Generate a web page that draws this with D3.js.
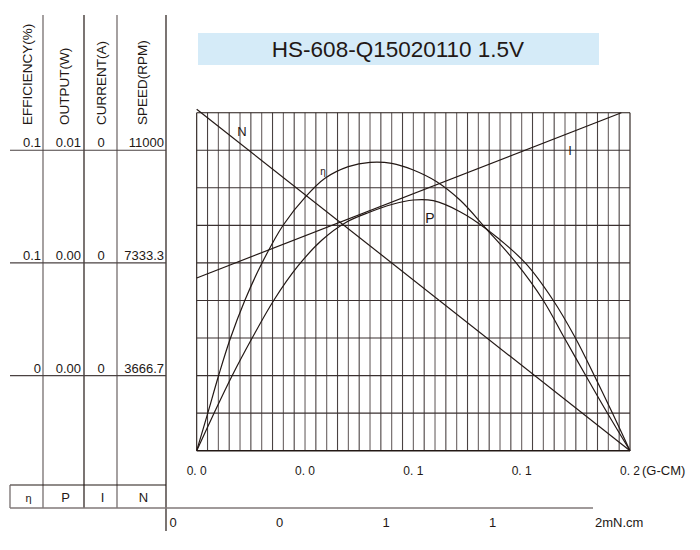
<!DOCTYPE html>
<html>
<head>
<meta charset="utf-8">
<script src="https://cdn.jsdelivr.net/npm/d3@7"></script>
<style>
  body { margin: 0; background: #fff; }
  text { font-family: "Liberation Sans", Arial, sans-serif; fill: #231815; }
</style>
</head>
<body>
<div class="chart"></div>
<script>
// motor curves, x = torque (G-CM)
const effTorque = [0, 0.00508, 0.01006, 0.01528, 0.02229, 0.03014, 0.03997, 0.05031, 0.05922, 0.06998, 0.07999, 0.09001, 0.09998, 0.11078, 0.12153, 0.13386, 0.14738, 0.15985, 0.16954, 0.17969, 0.18962, 0.2];
const effValues = [0, 0.01245, 0.02486, 0.03684, 0.05016, 0.06247, 0.07512, 0.08454, 0.09067, 0.09453, 0.09599, 0.09566, 0.09343, 0.08953, 0.08344, 0.07369, 0.06257, 0.05016, 0.03774, 0.02486, 0.01245, 0];

const outTorque = [0, 0.00799, 0.01629, 0.02553, 0.03568, 0.04676, 0.05784, 0.06924, 0.07999, 0.09001, 0.09998, 0.10921, 0.12153, 0.13386, 0.15154, 0.16446, 0.17462, 0.18362, 0.19193, 0.2];
const outValues = [0, 0.001245, 0.002486, 0.003741, 0.005016, 0.006148, 0.007013, 0.007612, 0.007945, 0.008195, 0.008344, 0.008321, 0.007955, 0.007369, 0.006257, 0.005016, 0.003774, 0.002486, 0.001245, 0];

const speedTorque = [0, 0.2];
const speedValues = [12500, 0];
const currentTorque = [0, 0.196];
const currentValues = [0.23, 0.45];

// left table
const tableHeaders = ["EFFICIENCY(%)", "OUTPUT(W)", "CURRENT(A)", "SPEED(RPM)"];
const tableLevels = [8, 5, 2]; // grid rows the table lines sit on
const effLabels = ["0.1", "0.1", "0"];
const outLabels = ["0.01", "0.00", "0.00"];
const curLabels = ["0", "0", "0"];
const speedLabels = ["11000", "7333.3", "3666.7"];
const legendLabels = ["η", "P", "I", "N"];

// axes labels
const torqueTicks = [0, 0.05, 0.1, 0.15, 0.2];
const torqueTickLabels = ["0. 0", "0. 0", "0. 1", "0. 1", "0. 2"];
const mNTicks = [0, 0.5, 1, 1.5];
const mNTickLabels = ["0", "0", "1", "1"];

const title = "HS-608-Q15020110 1.5V";

const svg = d3.select(".chart")
  .append("svg")
  .attr("width", 700)
  .attr("height", 550);

const ink = "#231815";

// grid area
const gx0 = 196.7, gx1 = 630, gy0 = 112.7, gy1 = 450.7;
const x = d3.scaleLinear().domain([0, 0.2]).range([gx0, gx1]);
const yGrid = d3.scaleLinear().domain([0, 9]).range([gy1, gy0]);
const ySpeed = d3.scaleLinear().domain([0, 12375]).range([gy1, gy0]);
const yEff = d3.scaleLinear().domain([0, 0.1125]).range([gy1, gy0]);
const yOut = d3.scaleLinear().domain([0, 0.01125]).range([gy1, gy0]);
const yCur = d3.scaleLinear().domain([0, 0.45]).range([gy1, gy0]);

// title box
svg.append("rect")
  .attr("x", 198).attr("y", 33)
  .attr("width", 401).attr("height", 32)
  .attr("fill", "#d5ebf8");
svg.append("text")
  .attr("x", 398).attr("y", 57)
  .attr("text-anchor", "middle")
  .attr("font-size", 22.5)
  .text(title);

// grid
const grid = svg.append("g");
grid.selectAll("line.v")
  .data(d3.range(41))
  .join("line")
  .attr("class", "v")
  .attr("x1", i => gx0 + i * (gx1 - gx0) / 40)
  .attr("x2", i => gx0 + i * (gx1 - gx0) / 40)
  .attr("y1", gy0).attr("y2", gy1)
  .attr("stroke", (i) => (i === 0 || i === 40) ? ink : (i % 2 ? "#4a4242" : "#6a6262"))
  .attr("stroke-width", 1.1);
grid.selectAll("line.h")
  .data(d3.range(10))
  .join("line")
  .attr("class", "h")
  .attr("x1", gx0).attr("x2", gx1)
  .attr("y1", d => yGrid(d)).attr("y2", d => yGrid(d))
  .attr("stroke", d => (d === 0 || d === 9) ? ink : "#3a3030")
  .attr("stroke-width", d => d === 0 ? 1.5 : 1.1);

// curves
const series = [
  { t: effTorque, v: effValues, y: yEff, curve: d3.curveCatmullRom },
  { t: outTorque, v: outValues, y: yOut, curve: d3.curveCatmullRom },
  { t: currentTorque, v: currentValues, y: yCur, curve: d3.curveLinear },
  { t: speedTorque, v: speedValues, y: ySpeed, curve: d3.curveLinear },
];
series.forEach(s => {
  const line = d3.line()
    .x((d, i) => x(s.t[i]))
    .y(d => s.y(d))
    .curve(s.curve);
  svg.append("path")
    .attr("d", line(s.v))
    .attr("fill", "none")
    .attr("stroke", ink)
    .attr("stroke-width", 1.2);
});

// curve names
svg.append("text").attr("x", 242).attr("y", 136).attr("font-size", 13).attr("text-anchor", "middle").text("N");
svg.append("text").attr("x", 323).attr("y", 175).attr("font-size", 10).attr("text-anchor", "middle").text("η");
svg.append("text").attr("x", 430).attr("y", 223).attr("font-size", 14).attr("text-anchor", "middle").text("P");
svg.append("text").attr("x", 570).attr("y", 155).attr("font-size", 13).attr("text-anchor", "middle").text("I");

// torque axis labels
svg.selectAll("text.tq")
  .data(torqueTicks)
  .join("text")
  .attr("class", "tq")
  .attr("x", d => x(d))
  .attr("y", 475)
  .attr("font-size", 12)
  .attr("text-anchor", "middle")
  .text((d, i) => torqueTickLabels[i]);
svg.append("text")
  .attr("x", x(0.2) + 12).attr("y", 475)
  .attr("font-size", 13)
  .text("(G-CM)");

// mN.cm axis
const xm = d3.scaleLinear().domain([0, 2]).range([173, 599]);
svg.selectAll("text.mn")
  .data(mNTicks)
  .join("text")
  .attr("class", "mn")
  .attr("x", d => xm(d))
  .attr("y", 527)
  .attr("font-size", 13)
  .attr("text-anchor", "middle")
  .text((d, i) => mNTickLabels[i]);
svg.append("text")
  .attr("x", xm(2) - 4).attr("y", 527)
  .attr("font-size", 13)
  .text("2mN.cm");

// left table
const colEdges = [10, 43, 84, 117, 166];
const table = svg.append("g");
table.selectAll("line.col")
  .data(colEdges.slice(1))
  .join("line")
  .attr("class", "col")
  .attr("x1", d => d).attr("x2", d => d)
  .attr("y1", 15)
  .attr("y2", d => d === 166 ? 531 : 508)
  .attr("stroke", (d, i) => i % 2 === 0 ? "#6a6262" : ink)
  .attr("stroke-width", 1.2);
table.selectAll("line.row")
  .data(tableLevels)
  .join("line")
  .attr("class", "row")
  .attr("x1", 10).attr("x2", 166)
  .attr("y1", d => yGrid(d)).attr("y2", d => yGrid(d))
  .attr("stroke", "#4a4242")
  .attr("stroke-width", 1.2);

table.selectAll("text.head")
  .data(tableHeaders)
  .join("text")
  .attr("class", "head")
  .attr("transform", (d, i) => `translate(${(colEdges[i] + colEdges[i + 1]) / 2 + 1},125) rotate(-90)`)
  .attr("text-anchor", "start")
  .attr("dominant-baseline", "central")
  .attr("font-size", 13.5)
  .text(d => d);

const columns = [
  { labels: effLabels, x: 41, anchor: "end" },
  { labels: outLabels, x: 81, anchor: "end" },
  { labels: curLabels, x: 101, anchor: "middle" },
  { labels: speedLabels, x: 164, anchor: "end" },
];
columns.forEach(c => {
  table.selectAll(null)
    .data(tableLevels)
    .join("text")
    .attr("x", c.x)
    .attr("y", d => yGrid(d) - 3)
    .attr("text-anchor", c.anchor)
    .attr("font-size", 13)
    .text((d, i) => c.labels[i]);
});

// legend box at the bottom of the table
table.append("line").attr("x1", 10).attr("x2", 166).attr("y1", 485).attr("y2", 485).attr("stroke", ink).attr("stroke-width", 1.2);
table.append("line").attr("x1", 10).attr("x2", 10).attr("y1", 485).attr("y2", 508).attr("stroke", "#6a6262").attr("stroke-width", 1.2);
table.append("line").attr("x1", 10).attr("x2", 593).attr("y1", 508).attr("y2", 508).attr("stroke", "#807878").attr("stroke-width", 1.5);
table.selectAll("text.leg")
  .data(legendLabels)
  .join("text")
  .attr("class", "leg")
  .attr("x", (d, i) => (colEdges[i] + colEdges[i + 1]) / 2 + 2)
  .attr("y", 502)
  .attr("text-anchor", "middle")
  .attr("font-size", (d, i) => i === 0 ? 11 : 13)
  .text(d => d);
</script>
</body>
</html>
